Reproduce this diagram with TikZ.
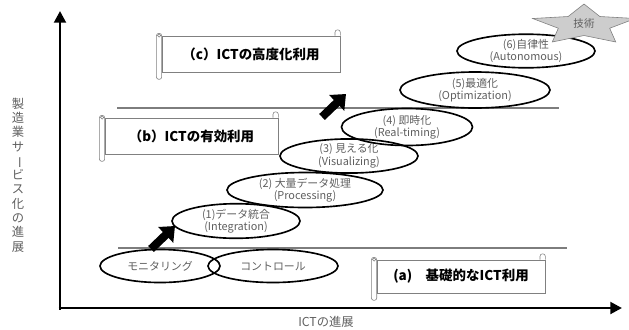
\documentclass[tikz,border=0pt]{standalone}
\usepackage{fontspec}
\setmainfont{Noto Sans CJK JP}
\usepackage{tikz}
\usetikzlibrary{shapes.geometric, arrows.meta, calc, positioning}
\definecolor{labelgray}{RGB}{95,95,95}
\definecolor{linegray}{RGB}{125,125,125}
\definecolor{stargray}{RGB}{205,205,205}

\begin{document}
\begin{tikzpicture}[x=0.03cm, y=-0.03cm]

% Stile
\tikzset{
  axis/.style={line width=2.4pt, -{Triangle[length=10pt, width=10pt]}},
  level/.style={draw=linegray, line width=1.1pt},
  stage/.style={ellipse, draw=black, line width=1.4pt, inner sep=0pt, align=center, text=labelgray, font=\fontsize{9.3}{10.6}\selectfont},
  bigarrow/.style={line width=7pt, -{Triangle[length=11pt, width=18pt]}},
  techstar/.style={fill=stargray, draw=gray, line width=0.5pt},
  banner/.style={rectangle, draw=gray, fill=white, line width=0.5pt, inner sep=0pt, font=\bfseries\fontsize{11.5}{13}\selectfont,
    append after command={\pgfextra{
      \draw[gray, line width=0.5pt, fill=white, rounded corners=2pt]
        ([xshift=-4.5pt, yshift=2pt]\tikzlastnode.north west) rectangle ([yshift=-6pt]\tikzlastnode.south west);
      \draw[gray, line width=0.5pt] ([xshift=-2.2pt, yshift=0.2pt]\tikzlastnode.north west) circle (1.4pt);
      \draw[gray, line width=0.5pt, fill=white, rounded corners=2pt]
        ([xshift=-4.5pt]\tikzlastnode.north east) |- ([yshift=5pt]\tikzlastnode.north east) -- (\tikzlastnode.north east);
    }}},
  axislabel/.style={text=labelgray, align=center, font=\fontsize{10.5}{12.2}\selectfont}
}

\useasboundingbox (0,0) rectangle (629,329);

% --- Achsen ---
\coordinate (origin) at (60,308);
\coordinate (ytop) at (60,11);
\coordinate (xend) at (622,308);
\draw[axis] ($(origin)+(0,1.5)$) -- (ytop);
\draw[axis] ($(origin)+(-1.5,0)$) -- (xend);

\node[axislabel] (ylabel) at (18,175) {製\\造\\業\\サ\\\rotatebox[origin=c]{-90}{ー}\\ビ\\ス\\化\\の\\進\\展};
\node[axislabel] (xlabel) at (326,322) {ICTの進展};

% --- Stufenlinien ---
\coordinate (lowl) at (118,248);
\coordinate (lowr) at (567,248);
\coordinate (midl) at (117,108);
\coordinate (midr) at (559,108);
\draw[level] (lowl) -- (lowr);
\draw[level] (midl) -- (midr);

% --- Banner ---
\node[banner, minimum width=5.34cm, minimum height=1.08cm] (advanced) at (251,54) {（c）ICTの高度化利用};
\node[banner, minimum width=5.19cm, minimum height=1.08cm] (effective) at (191.5,136) {（b）ICTの有効利用};
\node[banner, minimum width=5.04cm, minimum height=0.99cm] (basic) at (461,276.5) {(a)　基礎的なICT利用};

% --- Ellipsen ---
\node[stage, minimum width=3.6cm, minimum height=0.99cm] (mon) at (160,266) {モニタリング};
\node[stage, minimum width=3.9cm, minimum height=0.99cm] (ctl) at (273,266) {コントロール};
\node[stage, minimum width=3.84cm, minimum height=0.99cm] (integ) at (236,221) {(1)データ統合\\(Integration)};
\node[stage, minimum width=4.68cm, minimum height=1.05cm] (proc) at (305,190) {(2) 大量データ処理\\(Processing)};
\node[stage, minimum width=4.14cm, minimum height=0.96cm] (visual) at (349,156) {(3) 見える化\\(Visualizing)};
\node[stage, minimum width=3.93cm, minimum height=1.11cm] (realtime) at (407,127) {(4) 即時化\\(Real-timing)};
\node[stage, minimum width=4.5cm, minimum height=1.08cm] (optim) at (475,90) {(5)最適化\\(Optimization)};
\node[stage, minimum width=4.14cm, minimum height=0.96cm] (auton) at (526,51) {(6)自律性\\(Autonomous)};

% --- Stern ---
\filldraw[techstar, shift={(584,25)}] plot[samples at={0,...,9}]
  ({270+36*\x}:{ifthenelse(mod(\x,2)==0,54,27)} and {ifthenelse(mod(\x,2)==0,21,10.5)}) -- cycle;
\node[text=labelgray, font=\fontsize{9}{10}\selectfont] (tech) at (584,23) {技術};

% --- Pfeile ---
\coordinate (uplow) at (151,249);
\coordinate (uplowend) at (175,226);
\coordinate (uphigh) at (322,117);
\coordinate (uphighend) at (346,94);
\draw[bigarrow] (uplow) -- (uplowend);
\draw[bigarrow] (uphigh) -- (uphighend);

\end{tikzpicture}
\end{document}
